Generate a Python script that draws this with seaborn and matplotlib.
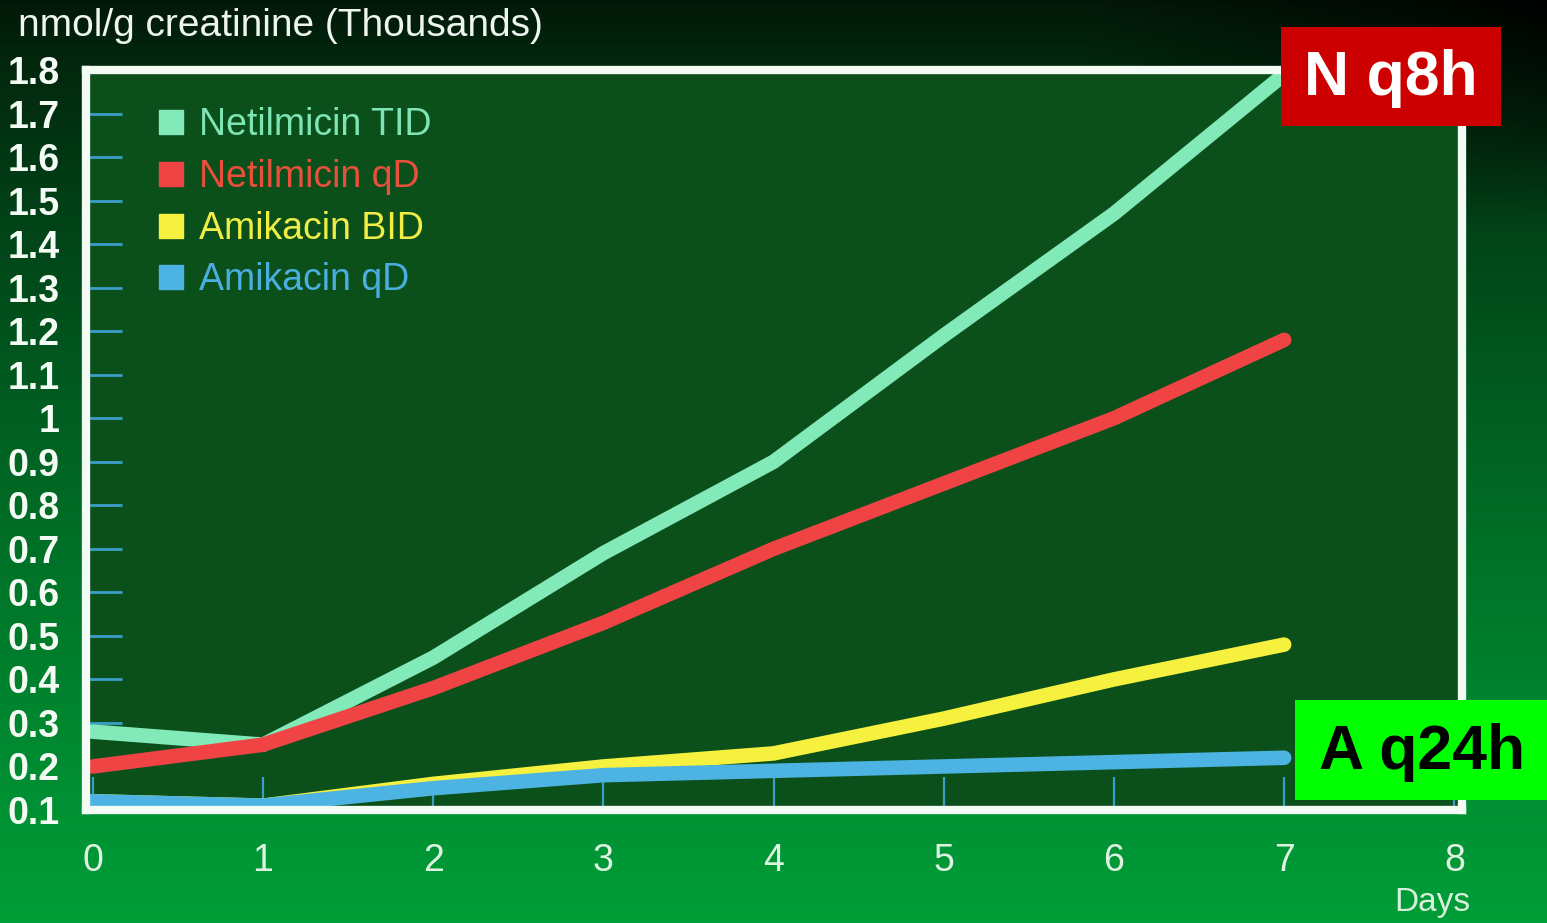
import numpy as np
import pandas as pd
import matplotlib
matplotlib.use("Agg")
import matplotlib.pyplot as plt
from matplotlib.lines import Line2D
from matplotlib.patches import Rectangle
import seaborn as sns

days = [0, 1, 2, 3, 4, 5, 6, 7]
netilmicin_tid = [0.28, 0.25, 0.45, 0.69, 0.90, 1.19, 1.47, 1.79]
netilmicin_qd = [0.20, 0.25, 0.38, 0.53, 0.70, 0.85, 1.00, 1.18]
amikacin_bid = [0.12, 0.11, 0.16, 0.20, 0.23, 0.31, 0.40, 0.48]
amikacin_qd = [0.12, 0.11, 0.15, 0.18, 0.19, 0.20, 0.21, 0.22]
series_names = ["Netilmicin TID", "Netilmicin qD", "Amikacin BID", "Amikacin qD"]
line_colors = ["#82eab8", "#f04444", "#f6f03e", "#4db3e2"]
text_colors = ["#7fe4b4", "#e8503c", "#f0ee44", "#4aaedf"]
y_ticks = [round(0.1 * i, 1) for i in range(1, 19)]
y_tick_labels = ["1" if abs(v - 1.0) < 1e-9 else f"{v:g}" for v in y_ticks]
x_ticks = [0, 1, 2, 3, 4, 5, 6, 7, 8]

rows = []
for name, vals in zip(series_names, [netilmicin_tid, netilmicin_qd, amikacin_bid, amikacin_qd]):
    for d, v in zip(days, vals):
        rows.append({"Day": d, "Value": v, "Series": name})
df = pd.DataFrame(rows)

sns.set_theme(style="ticks")
plt.rcParams["font.family"] = ["Liberation Sans", "DejaVu Sans"]

W, H = 1547, 923
fig = plt.figure(figsize=(W / 100, H / 100), dpi=100)

# background gradient
bg = fig.add_axes([0, 0, 1, 1], zorder=-10)
yy, xx = np.mgrid[0:1:300j, 0:1:300j]
dark = np.array([0.01, 0.09, 0.03])
bright = np.array([0.0, 0.62, 0.22])
t = np.clip(yy ** 0.8, 0, 1)[..., None]
img = dark * (1 - t) + bright * t
corner = np.clip(1 - (yy / 0.25), 0, 1) * np.clip((xx - 0.7) / 0.3, 0, 1)
img = img * (1 - 0.9 * corner[..., None])
bg.imshow(img[::-1], extent=[0, 1, 0, 1], aspect="auto", origin="lower")
bg.axis("off")

ax = fig.add_axes([86 / W, 1 - 810 / H, (1462 - 86) / W, (810 - 70) / H])
ax.set_facecolor("#0b4f1b")

sns.lineplot(data=df, x="Day", y="Value", hue="Series", hue_order=series_names,
             palette=dict(zip(series_names, line_colors)), linewidth=10.5,
             legend=False, ax=ax, solid_capstyle="round", solid_joinstyle="round", zorder=3)

ax.set_xlim(-0.04, 8.045)
ax.set_ylim(0.1, 1.8)
ax.set_yticks(y_ticks)
ax.set_yticklabels(y_tick_labels)
ax.set_xticks(x_ticks)
ax.set_xlabel("")
ax.set_ylabel("")

for sp in ax.spines.values():
    sp.set_visible(True)
    sp.set_color("#f2fbf4")
    sp.set_linewidth(6)
    sp.set_zorder(4)

ax.tick_params(axis="y", left=True, direction="in", length=26, width=2, color="#3b9ec8",
               pad=19, labelsize=27, labelcolor="#f4fbf4")
ax.tick_params(axis="x", bottom=True, direction="in", length=24, width=1.6, color="#3b9ec8",
               pad=24, labelsize=27, labelcolor="#dff2e2")
for lab in ax.get_yticklabels():
    lab.set_fontweight("bold")

handles = [Line2D([0], [0], marker="s", linestyle="none", markersize=17,
                  markerfacecolor=c, markeredgecolor=c) for c in line_colors]
leg = ax.legend(handles, series_names, loc="upper left", bbox_to_anchor=(0.037, 0.97),
                frameon=False, fontsize=27, handletextpad=0.25, labelspacing=0.42,
                borderaxespad=0, handlelength=1.0)
for txt, c in zip(leg.get_texts(), text_colors):
    txt.set_color(c)

fig.text(18 / W, 1 - 8 / H, "nmol/g creatinine (Thousands)", ha="left", va="top",
         fontsize=28, color="#eef5ee")
fig.text(1470 / W, 1 - 918 / H, "Days", ha="right", va="bottom", fontsize=24, color="#d8efda")

fig.patches.append(Rectangle((1281 / W, 1 - 126 / H), 220 / W, 99 / H,
                             transform=fig.transFigure, facecolor="#cc0000", edgecolor="none", zorder=20))
fig.text(1391 / W, 1 - 78 / H, "N q8h", ha="center", va="center", fontsize=45,
         fontweight="bold", color="white", zorder=21)
fig.patches.append(Rectangle((1295 / W, 1 - 800 / H), 252 / W, 100 / H,
                             transform=fig.transFigure, facecolor="#00ff00", edgecolor="none", zorder=20))
fig.text(1422 / W, 1 - 752 / H, "A q24h", ha="center", va="center", fontsize=45,
         fontweight="bold", color="black", zorder=21)

fig.savefig("out.png", dpi=100)
